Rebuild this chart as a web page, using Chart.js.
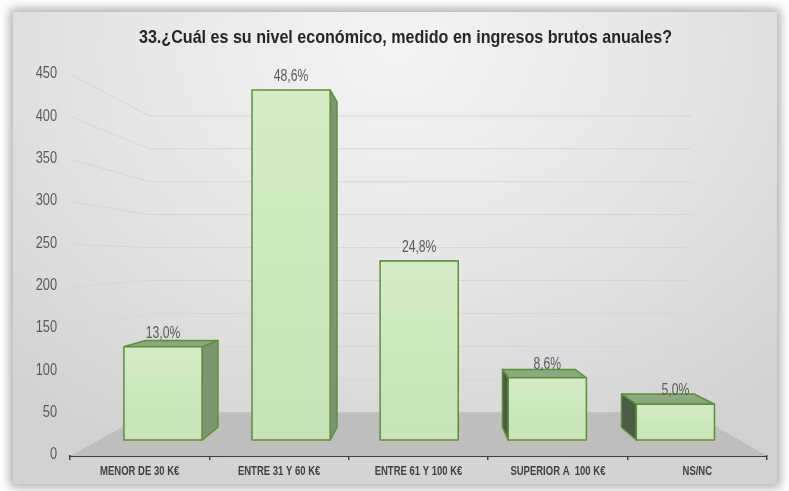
<!DOCTYPE html>
<html lang="es">
<head>
<meta charset="utf-8">
<title>Nivel económico</title>
<script src="https://cdn.jsdelivr.net/npm/chart.js@4.4.1/dist/chart.umd.min.js"></script>
<style>
  html, body { margin: 0; padding: 0; background: #ffffff; }
  #wrap { position: relative; width: 789px; height: 491px; overflow: hidden; }
  #panel {
    position: absolute; left: 13px; top: 12px; width: 764px; height: 472px;
    background: radial-gradient(ellipse 75% 95% at 50% 8%, #f4f4f4 0%, #e4e4e4 55%, #d2d2d2 100%);
    box-shadow: 0 0 10px 3px rgba(0, 0, 0, 0.35);
  }
  #chart { position: absolute; left: 0; top: 0; }
</style>
</head>
<body>
<div id="wrap">
  <div id="panel"></div>
  <canvas id="chart" width="789" height="491"></canvas>
</div>
<script>
// ===== Data =====
const title = '33.¿Cuál es su nivel económico, medido en ingresos brutos anuales?';
const categories = ['MENOR DE 30 K€', 'ENTRE 31 Y 60 K€', 'ENTRE 61 Y 100 K€', 'SUPERIOR A  100 K€', 'NS/NC'];
const counts = [120, 450, 230, 80, 46];
const yMin = 0;
const yMax = 450;
const yStep = 50;

const total = counts.reduce((a, b) => a + b, 0);
const pctLabels = counts.map(v => (v / total * 100).toFixed(1).replace('.', ',') + '%');

// ===== Look =====
const FONT = "'Liberation Sans', Arial, sans-serif";
const colors = {
  front: '#c8e3b6',
  frontTop: '#d3ecc6',
  edge: '#5d8f38',
  sideRight: '#7b9570',
  sideLeft: '#4a5c45',
  top: '#8ba97e',
  floor: '#bebebe',
  grid: '#d6d6d6',
  label: '#595959',
  axis: '#404040',
  title: '#262626',
};

// one-point perspective: points of the front plane are pulled towards the vanishing point
const view = { vpX: 427, vpY: 259, front: 0.919, back: 0.854, wall: 0.778 };
function project(x, y, s) {
  return [view.vpX + (x - view.vpX) * s, view.vpY + (y - view.vpY) * s];
}
function poly(ctx, pts) {
  ctx.beginPath();
  ctx.moveTo(pts[0][0], pts[0][1]);
  for (let i = 1; i < pts.length; i++) ctx.lineTo(pts[i][0], pts[i][1]);
  ctx.closePath();
}
// condensed text (no narrow font installed, so squeeze horizontally)
function narrowText(ctx, text, x, y, font, color, align, sx, baseline) {
  ctx.save();
  ctx.translate(x, y);
  ctx.scale(sx, 1);
  ctx.font = font;
  ctx.fillStyle = color;
  ctx.textAlign = align;
  ctx.textBaseline = baseline || 'alphabetic';
  ctx.fillText(text, 0, 0);
  ctx.restore();
}

// ===== 3D floor, walls, boxes and texts =====
const box3d = {
  id: 'box3d',
  beforeDatasetsDraw(chart) {
    const { ctx, chartArea: a, scales: { x, y } } = chart;
    ctx.save();
    // floor
    const bl = project(a.left, a.bottom, view.wall);
    const br = project(a.right, a.bottom, view.wall);
    poly(ctx, [[a.left, a.bottom], [a.right, a.bottom], br, bl]);
    ctx.fillStyle = colors.floor;
    ctx.fill();
    // wall gridlines
    ctx.strokeStyle = colors.grid;
    ctx.lineWidth = 1;
    y.ticks.forEach(t => {
      if (t.value === yMin) return;
      const py = y.getPixelForValue(t.value);
      const b = project(a.left, py, view.wall);
      const r = project(a.right, py, view.wall);
      ctx.beginPath();
      ctx.moveTo(a.left + 2, py);
      ctx.lineTo(b[0], b[1]);
      ctx.lineTo(r[0], b[1]);
      ctx.stroke();
    });
    ctx.restore();

    // title
    narrowText(ctx, title, (a.left + a.right) / 2 - 13, 42.5, 'bold 18.5px ' + FONT, colors.title, 'center', 0.87);
    // y tick labels
    y.ticks.forEach(t => {
      narrowText(ctx, String(t.value), a.left - 13, y.getPixelForValue(t.value) - 1, '16px ' + FONT, colors.label, 'right', 0.8, 'middle');
    });
    // category labels
    categories.forEach((c, i) => {
      narrowText(ctx, c, x.getPixelForTick(i), a.bottom + 15.5, 'bold 12.5px ' + FONT, colors.axis, 'center', 0.76, 'middle');
    });
  },
  afterDatasetsDraw(chart) {
    const { ctx } = chart;
    const meta = chart.getDatasetMeta(0);
    ctx.save();
    ctx.lineJoin = 'round';
    meta.data.forEach((bar, i) => {
      const p = bar.getProps(['x', 'y', 'base', 'width'], true);
      const L = p.x - p.width / 2, R = p.x + p.width / 2, T = p.y, B = p.base;
      const face = s => ({
        lt: project(L, T, s), rt: project(R, T, s),
        lb: project(L, B, s), rb: project(R, B, s),
      });
      const F = face(view.front), K = face(view.back);
      ctx.strokeStyle = colors.edge;
      ctx.lineWidth = 1.5;
      if (F.rt[0] < view.vpX) {
        poly(ctx, [F.rt, K.rt, K.rb, F.rb]);
        ctx.fillStyle = colors.sideRight; ctx.fill(); ctx.stroke();
      }
      if (F.lt[0] > view.vpX) {
        poly(ctx, [F.lt, K.lt, K.lb, F.lb]);
        ctx.fillStyle = colors.sideLeft; ctx.fill(); ctx.stroke();
      }
      if (F.lt[1] > view.vpY) {
        poly(ctx, [F.lt, F.rt, K.rt, K.lt]);
        ctx.fillStyle = colors.top; ctx.fill(); ctx.stroke();
      }
      const g = ctx.createLinearGradient(0, F.lt[1], 0, F.lb[1]);
      g.addColorStop(0, colors.frontTop);
      g.addColorStop(1, colors.front);
      poly(ctx, [F.lt, F.rt, F.rb, F.lb]);
      ctx.fillStyle = g; ctx.fill(); ctx.stroke();

      // data label
      narrowText(ctx, pctLabels[i], (F.lt[0] + F.rt[0]) / 2, F.lt[1] - 9, '16px ' + FONT, colors.label, 'center', 0.76);
    });
    ctx.restore();
  }
};

// ===== Chart =====
new Chart(document.getElementById('chart'), {
  type: 'bar',
  data: {
    labels: categories,
    datasets: [{
      data: counts,
      backgroundColor: 'rgba(0,0,0,0)',
      borderWidth: 0,
      categoryPercentage: 1,
      barPercentage: 0.61,
    }]
  },
  options: {
    responsive: false,
    animation: false,
    layout: { padding: { left: 0, right: 22, top: 75, bottom: 0 } },
    plugins: {
      legend: { display: false },
      tooltip: { enabled: false },
      title: { display: false }
    },
    scales: {
      x: {
        grid: { display: true, offset: true, drawOnChartArea: false, drawTicks: true, tickLength: 4, color: colors.axis, lineWidth: 1.5 },
        border: { display: true, color: colors.axis, width: 2 },
        ticks: { display: false },
        afterFit: s => { s.height = 35; }
      },
      y: {
        min: yMin,
        max: yMax,
        grid: { display: false, drawTicks: false },
        border: { display: false },
        ticks: { display: false, stepSize: yStep },
        afterFit: s => { s.width = 70; }
      }
    }
  },
  plugins: [box3d]
});
</script>
</body>
</html>
